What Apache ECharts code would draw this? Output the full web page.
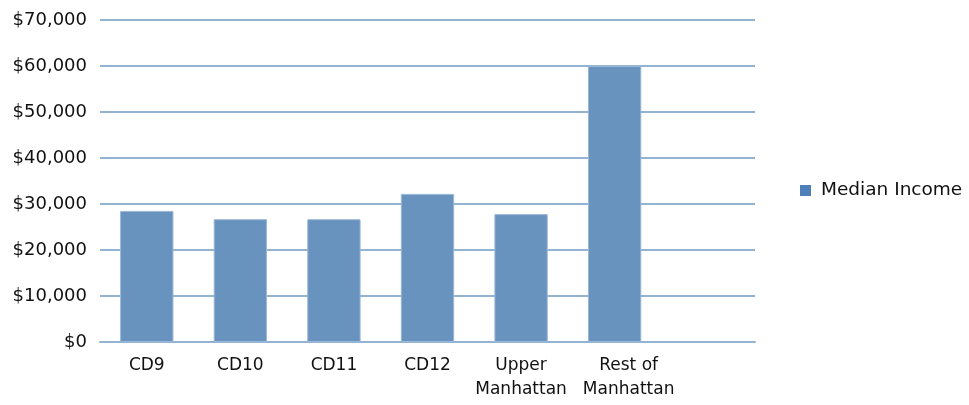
<!DOCTYPE html>
<html>
<head>
<meta charset="utf-8">
<script src="https://cdn.jsdelivr.net/npm/echarts@6/dist/echarts.min.js"></script>
<style>
  html, body { margin: 0; padding: 0; background: #fff; }
  #main { width: 969px; height: 405px; }
</style>
</head>
<body>
<div id="main"></div>
<script>
// categories (last slot is empty in the original)
var categories = ["CD9", "CD10", "CD11", "CD12", "Upper\nManhattan", "Rest of\nManhattan", ""];
var medianIncome = [28500, 26700, 26700, 32200, 27800, 60000, null];
var seriesName = "Median Income";

var myChart = echarts.init(document.getElementById("main"));

// the last label sits a bit to the right in the original, so nudge it
var xData = categories.map(function (c, i) {
  if (i === 5) {
    return { value: c, textStyle: { padding: [0, 0, 0, 28] } };
  }
  return c;
});

var option = {
  animation: false,
  textStyle: { fontFamily: "DejaVu Sans" },
  grid: { left: 100, right: 214, top: 20, bottom: 63, outerBoundsMode: "none", containLabel: false },
  legend: {
    left: 795,
    top: 176,
    orient: "vertical",
    itemWidth: 11,
    itemHeight: 11,
    icon: "rect",
    itemStyle: { color: "#4f7fb8", borderWidth: 0 },
    textStyle: { fontSize: 18.5, color: "#111", fontFamily: "DejaVu Sans", padding: [0, 0, 0, 5] },
    data: [seriesName]
  },
  xAxis: {
    type: "category",
    data: xData,
    axisLine: { lineStyle: { color: "#93b3d3", width: 2 } },
    axisTick: { show: false },
    axisLabel: { color: "#111", fontSize: 17, margin: 12, lineHeight: 24, interval: 0 }
  },
  yAxis: {
    type: "value",
    min: 0,
    max: 70000,
    interval: 10000,
    axisLine: { show: false },
    axisTick: { show: false },
    splitLine: { lineStyle: { color: "#93b3d3", width: 2 } },
    axisLabel: {
      color: "#111",
      fontSize: 18,
      margin: 13,
      formatter: function (v) { return "$" + v.toLocaleString("en-US"); }
    }
  },
  series: [
    {
      name: seriesName,
      type: "bar",
      data: medianIncome,
      barWidth: "57%",
      itemStyle: { color: "#6893bf", borderColor: "#9bb8d6", borderWidth: 1 }
    }
  ]
};
myChart.setOption(option);
</script>
</body>
</html>
